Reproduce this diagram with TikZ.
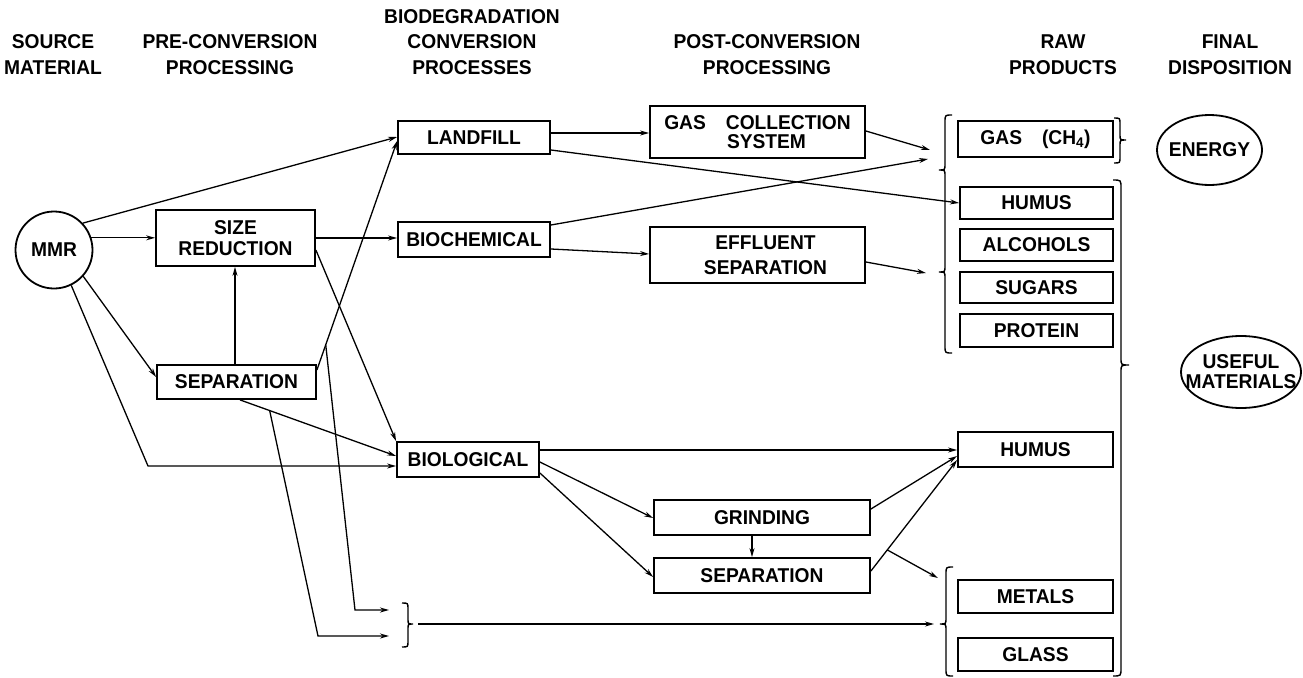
\documentclass[tikz,border=0pt]{standalone}
\usepackage{fontspec}
\setmainfont{Liberation Sans}[FakeStretch=0.96]
\usetikzlibrary{arrows.meta,shapes.geometric,calc}
\begin{document}
\begin{tikzpicture}[x=1pt,y=-1pt,
  hdr/.style={font=\fontsize{20}{25.5}\selectfont\bfseries, align=center, inner sep=0},
  txt/.style={font=\fontsize{20}{21}\selectfont\bfseries, align=center, inner sep=0},
  box/.style={draw, line width=1.8pt, inner sep=0, align=center, font=\fontsize{20}{21}\selectfont\bfseries},
  arr/.style={line width=1.3pt, -{Stealth[length=9pt,width=5pt]}},
  brc/.style={line width=1.4pt}]
\useasboundingbox (0,0) rectangle (1303,677);

% headers
\node[hdr] (h1) at (53,54.75) {SOURCE\\MATERIAL};
\node[hdr] (h2) at (230,54.75) {PRE-CONVERSION\\PROCESSING};
\node[hdr] (h3) at (472,42) {BIODEGRADATION\\CONVERSION\\PROCESSES};
\node[hdr] (h4) at (767,54.75) {POST-CONVERSION\\PROCESSING};
\node[hdr] (h5) at (1063,54.75) {RAW\\PRODUCTS};
\node[hdr] (h6) at (1230,54.75) {FINAL\\DISPOSITION};

% source
\node[draw, circle, line width=1.8pt, minimum size=77pt, inner sep=0, font=\fontsize{20}{21}\selectfont\bfseries] (mmr) at (54,250) {MMR};

% pre-conversion
\node[box, minimum width=159pt, minimum height=56pt] (sizered) at (235.5,238) {SIZE\\REDUCTION};
\node[box, minimum width=159pt, minimum height=34pt] (sep1) at (236.5,382) {SEPARATION};

% conversion
\node[box, minimum width=152pt, minimum height=33pt] (landfill) at (474,137.5) {LANDFILL};
\node[box, minimum width=152pt, minimum height=35pt] (biochem) at (474,239.5) {BIOCHEMICAL};
\node[box, minimum width=142pt, minimum height=35pt] (biol) at (468,459.5) {BIOLOGICAL};

% post-conversion
\node[box, minimum width=215pt, minimum height=52pt, font=\fontsize{20}{18.5}\selectfont\bfseries] (gascoll) at (757.5,132) {GAS\quad COLLECTION\\\hspace*{18pt}SYSTEM};
\node[box, minimum width=215pt, minimum height=56pt, font=\fontsize{20}{25}\selectfont\bfseries] (effluent) at (757.5,255) {\hspace*{16pt}EFFLUENT\\\hspace*{16pt}SEPARATION};
\node[box, minimum width=216pt, minimum height=35pt] (grinding) at (762,517.5) {GRINDING};
\node[box, minimum width=216pt, minimum height=35pt] (sep2) at (762,575.5) {SEPARATION};

% raw products
\node[box, minimum width=155pt, minimum height=36pt] (gas) at (1035.5,139) {GAS\quad (CH\textsubscript{4})};
\node[box, minimum width=153pt, minimum height=32pt] (humus1) at (1036.5,203) {HUMUS};
\node[box, minimum width=153pt, minimum height=32pt] (alcohols) at (1036.5,245) {ALCOHOLS};
\node[box, minimum width=153pt, minimum height=31pt] (sugars) at (1036.5,287.5) {SUGARS};
\node[box, minimum width=153pt, minimum height=33pt] (protein) at (1036.5,330.5) {PROTEIN};
\node[box, minimum width=155pt, minimum height=35pt] (humus2) at (1035.5,449.5) {HUMUS};
\node[box, minimum width=155pt, minimum height=33pt] (metals) at (1035.5,596.5) {METALS};
\node[box, minimum width=155pt, minimum height=33pt] (glass) at (1035.5,654.5) {GLASS};

% final disposition
\node[draw, ellipse, line width=1.8pt, minimum width=105pt, minimum height=70pt, inner sep=0] (energy) at (1209.5,150) {};
\node[txt] (energyt) at (energy.center) {ENERGY};
\node[draw, ellipse, line width=1.8pt, minimum width=120pt, minimum height=72pt, inner sep=0] (useful) at (1241,372) {};
\node[txt, font=\fontsize{20}{20}\selectfont\bfseries] (usefult) at (useful.center) {USEFUL\\MATERIALS};

% helper coordinates
\coordinate (c1) at (148,466);
\coordinate (s8a) at (sep1.east |- 0,370);
\coordinate (s8b) at (landfill.west |- 0,141);
\coordinate (s9a) at (sep1.south -| 240,0);
\coordinate (s9b) at (biol.west |- 0,456);
\coordinate (b8) at ($(s8a)!0.11!(s8b)$);
\coordinate (b9) at ($(s9a)!0.19!(s9b)$);
\coordinate (k8) at (355,610);
\coordinate (k9) at (318,636);
\coordinate (e8) at (389,610);
\coordinate (e9) at (389,636);
\coordinate (bl) at (418,624);
\coordinate (mgb) at (934,624);
\coordinate (gb1) at (930,150);
\coordinate (gb2) at (928,159);
\coordinate (gb3) at (926,273);
\coordinate (s23a) at (sep2.east |- 0,571);
\coordinate (s23b) at (humus2.west |- 0,460);
\coordinate (b23) at ($(s23a)!0.19!(s23b)$);
\coordinate (mb) at (938,578);

% connectors
\draw[arr] (mmr.43) -- (landfill.west |- 0,137);
\draw[arr] (mmr.18) -- (sizered.west |- mmr.18);
\draw[arr] (mmr.-42) -- (sep1.west |- 0,377);
\draw[arr] (mmr.-64) -- (c1) -- (biol.west |- c1);
\draw[arr] (sep1.north -| 235,0) -- (sizered.south -| 235,0);
\draw[arr] (sizered.east) -- (biochem.west |- sizered.east);
\draw[arr] (sizered.east |- 0,250) -- (biol.north west);
\draw[arr] (s8a) -- (s8b);
\draw[arr] (s9a) -- (s9b);
\draw[arr] (b8) -- (k8) -- (e8);
\draw[arr] (b9) -- (k9) -- (e9);
\draw[arr] (bl) -- (mgb);

\draw[arr] (landfill.east |- 0,133) -- (gascoll.west |- 0,133);
\draw[arr] (landfill.east |- 0,150) -- (humus1.west);
\draw[arr] (biochem.east |- 0,225) -- (gb2);
\draw[arr] (biochem.east |- 0,249) -- (effluent.west |- 0,254);
\draw[arr] (gascoll.east |- 0,131) -- (gb1);
\draw[arr] (effluent.east |- 0,262) -- (gb3);

\draw[arr] (biol.east |- 0,450) -- (humus2.west |- 0,450);
\draw[arr] (biol.east |- 0,462) -- (grinding.west |- 0,518);
\draw[arr] (biol.east |- 0,473) -- (sep2.west |- 0,577);
\draw[arr] (grinding.south -| 752,0) -- (sep2.north -| 752,0);
\draw[arr] (grinding.east |- 0,509) -- (humus2.west |- 0,456);
\draw[arr] (s23a) -- (s23b);
\draw[arr] (b23) -- (mb);

% braces
\draw[brc] (402,603) .. controls (408,603) .. (408,609) -- (408,619) .. controls (408,624) .. (413,624)
  .. controls (408,624) .. (408,629) -- (408,641) .. controls (408,647) .. (402,647);
\draw[brc] (952,115) .. controls (945,115) .. (945,122) -- (945,164) .. controls (945,170) .. (939,170)
  .. controls (945,170) .. (945,176) -- (945,266) .. controls (945,272) .. (939,272)
  .. controls (945,272) .. (945,278) -- (945,346) .. controls (945,353) .. (952,353);
\draw[brc] (953,567) .. controls (946,567) .. (946,574) -- (946,618) .. controls (946,624) .. (940,624)
  .. controls (946,624) .. (946,630) -- (946,669) .. controls (946,676) .. (953,676);
\draw[brc] (1114,118) .. controls (1120,118) .. (1120,124) -- (1120,135) .. controls (1120,140) .. (1126,140)
  .. controls (1120,140) .. (1120,145) -- (1120,157) .. controls (1120,163) .. (1114,163);
\draw[brc] (1113,180) .. controls (1121,180) .. (1121,188) -- (1121,358) .. controls (1121,365) .. (1129,365)
  .. controls (1121,365) .. (1121,372) -- (1121,668) .. controls (1121,676) .. (1113,676);
\end{tikzpicture}
\end{document}
